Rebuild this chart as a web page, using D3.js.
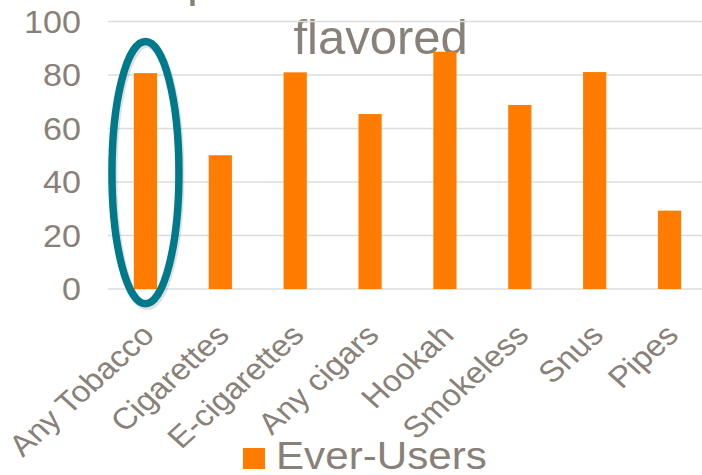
<!DOCTYPE html>
<html>
<head>
<meta charset="utf-8">
<script src="https://cdn.jsdelivr.net/npm/d3@7"></script>
<style>
  html, body { margin: 0; padding: 0; background: #ffffff; overflow: hidden; }
  svg { display: block; font-family: "Liberation Sans", Arial, sans-serif; }
</style>
</head>
<body>
<svg id="chart" width="702" height="475"></svg>
<script>
const categories = ["Any Tobacco", "Cigarettes", "E-cigarettes", "Any cigars", "Hookah", "Smokeless", "Snus", "Pipes"];
const everUsers = [80.7, 50.0, 81.0, 65.4, 88.7, 68.8, 81.1, 29.3];
const yTicks = [0, 20, 40, 60, 80, 100];
const seriesName = "Ever-Users";
const titleLines = ["p", "flavored"];
const highlightIndex = 0;

const W = 702, H = 475;
const textColor = "#898078";
const barColor = "#ff7c00";
const ringColor = "#007a8a";
const stretch = 1.1;

const svg = d3.select("#chart");

const x = d3.scaleBand().domain(categories).range([108, 707]).paddingInner(0.69).paddingOuter(0.345);
const y = d3.scaleLinear().domain([0, 100]).range([289, 21.5]);

// title (first line mostly cut off at the top)
svg.append("text").attr("x", 187).attr("y", -3.6).attr("font-size", 49)
  .attr("fill", textColor).text(titleLines[0]);
svg.append("text").attr("x", 380.6).attr("y", 53.6).attr("font-size", 49)
  .attr("text-anchor", "middle").attr("fill", textColor).text(titleLines[1]);

// gridlines
svg.append("g").selectAll("line").data(yTicks).join("line")
  .attr("x1", 108).attr("x2", W)
  .attr("y1", d => y(d)).attr("y2", d => y(d))
  .attr("stroke", "#dcdcdc").attr("stroke-width", 1.6);

// y axis labels
const yAxis = d3.axisLeft(y).tickValues(yTicks).tickSize(0).tickPadding(0);
const gy = svg.append("g").attr("transform", "translate(81,0)").call(yAxis);
gy.select(".domain").remove();
gy.selectAll("text").attr("fill", textColor).attr("font-size", 31)
  .attr("font-family", "Liberation Sans, Arial, sans-serif")
  .attr("x", 0).attr("dy", "0.35em")
  .attr("transform", `scale(${stretch},1)`);

// bars
svg.append("g").selectAll("rect").data(categories).join("rect")
  .attr("x", d => x(d)).attr("width", x.bandwidth())
  .attr("y", (d, i) => y(everUsers[i]))
  .attr("height", (d, i) => y(0) - y(everUsers[i]))
  .attr("fill", barColor);

// x labels
const xAxis = d3.axisBottom(x).tickSize(0).tickPadding(0);
const gx = svg.append("g").attr("transform", "translate(0,289)").call(xAxis);
gx.select(".domain").remove();
gx.selectAll("text")
  .attr("fill", textColor).attr("font-size", 30)
  .attr("font-family", "Liberation Sans, Arial, sans-serif")
  .attr("text-anchor", "end")
  .attr("dy", null).attr("y", 0)
  .attr("transform", `translate(10.5,48) scale(${stretch},1) rotate(-45)`);

// highlight ellipse around first bar
const hc = categories[highlightIndex];
const ringG = svg.append("g");
const rcx = x(hc) + x.bandwidth() / 2;
const rcy = (y(92.5) + y(-5.5)) / 2;
const rry = (y(-5.5) - y(92.5)) / 2;
ringG.append("ellipse")
  .attr("cx", rcx + 1.5).attr("cy", rcy + 2.5)
  .attr("rx", 33.5).attr("ry", rry)
  .attr("fill", "none").attr("stroke", "#000").attr("stroke-opacity", 0.12).attr("stroke-width", 8);
ringG.append("ellipse")
  .attr("cx", rcx).attr("cy", rcy)
  .attr("rx", 33.5).attr("ry", rry)
  .attr("fill", "none").attr("stroke", ringColor).attr("stroke-width", 7.5);

// legend
svg.append("rect").attr("x", 243).attr("y", 448).attr("width", 22).attr("height", 21).attr("fill", barColor);
svg.append("text").attr("transform", `translate(276,469) scale(${stretch + 0.01},1)`)
  .attr("font-size", 38).attr("fill", textColor).text(seriesName);
</script>
</body>
</html>
